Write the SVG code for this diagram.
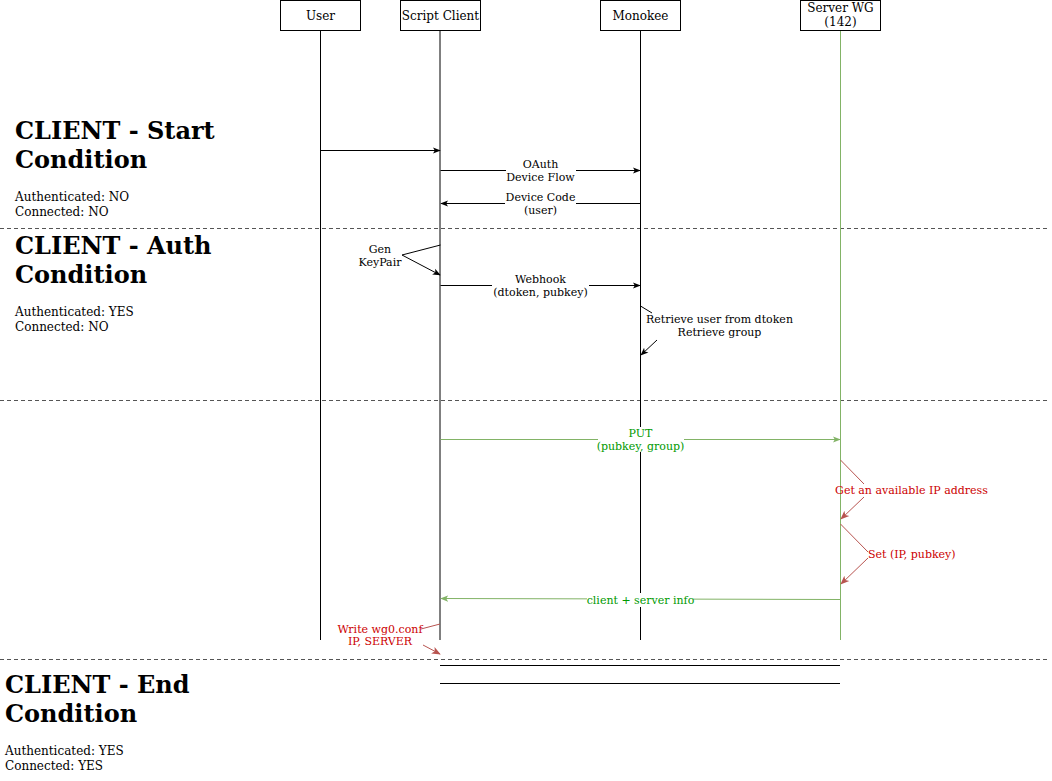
<svg xmlns="http://www.w3.org/2000/svg" width="1052" height="781" viewBox="0 0 1052 781">
<style>
text{font-family:"DejaVu Serif","Liberation Serif",serif;fill:#000}
.hdr{font-size:12px;text-anchor:middle}
.lbl{font-size:11px;text-anchor:middle}
.title{font-size:24px;font-weight:bold}
.body{font-size:12px}
.green{fill:#009900}
.red{fill:#CC0000}
.box{fill:#fff;stroke:#000;stroke-width:1}
.life{stroke:#000;stroke-width:1;fill:none}
.msg{stroke:#000;stroke-width:1;fill:none}
.gmsg{stroke:#82b366;stroke-width:1;fill:none}
.rmsg{stroke:#b85450;stroke-width:1;fill:none}
.sep{stroke:#555;stroke-width:1;stroke-dasharray:4 3;fill:none}
.bg{fill:#fff}
</style>
<defs>
<marker id="ab" viewBox="0 0 10 10" refX="9" refY="5" markerWidth="8" markerHeight="8" markerUnits="userSpaceOnUse" orient="auto"><path d="M0,1 L10,5 L0,9 L2.5,5 Z" fill="#000"/></marker>
<marker id="ag" viewBox="0 0 10 10" refX="9" refY="5" markerWidth="8" markerHeight="8" markerUnits="userSpaceOnUse" orient="auto"><path d="M0,1 L10,5 L0,9 L2.5,5 Z" fill="#82b366"/></marker>
<marker id="ar" viewBox="0 0 10 10" refX="9" refY="5" markerWidth="9" markerHeight="9" markerUnits="userSpaceOnUse" orient="auto"><path d="M0,1 L10,5 L0,9 L2.5,5 Z" fill="#b85450"/></marker>
</defs>
<rect width="1052" height="781" fill="#fff"/>

<g id="separators">
<line class="sep" x1="0" y1="228.5" x2="1048" y2="228.5"/>
<line class="sep" x1="0" y1="400.5" x2="1048" y2="400.5"/>
<line class="sep" x1="0" y1="659.5" x2="1048" y2="659.5"/>
</g>

<g id="node-user">
<line class="life" x1="320.5" y1="30" x2="320.5" y2="640"/>
<rect class="box" x="280.5" y="0.5" width="80" height="30"/>
<text class="hdr" x="320.5" y="20">User</text>
</g>
<g id="node-client">
<line class="life" x1="440" y1="30" x2="440" y2="640"/>
<rect class="box" x="400.5" y="0.5" width="80" height="30"/>
<text class="hdr" x="440.5" y="20">Script Client</text>
</g>
<g id="node-monokee">
<line class="life" x1="640.5" y1="30" x2="640.5" y2="640"/>
<rect class="box" x="600.5" y="0.5" width="80" height="30"/>
<text class="hdr" x="640.5" y="20">Monokee</text>
</g>
<g id="node-server">
<line x1="840.5" y1="30" x2="840.5" y2="640" stroke="#82b366" stroke-width="1"/>
<rect class="box" x="800.5" y="0.5" width="80" height="30"/>
<text class="hdr" x="840.5" y="12">Server WG</text>
<text class="hdr" x="840.5" y="26">(142)</text>
</g>

<g id="connectors">
<line class="msg" x1="320.5" y1="150.5" x2="440" y2="150.5" marker-end="url(#ab)"/>

<line class="msg" x1="440.5" y1="170.5" x2="640" y2="170.5" marker-end="url(#ab)"/>
<rect class="bg" x="506" y="158" width="70" height="24"/>
<text class="lbl" x="540.5" y="168">OAuth</text>
<text class="lbl" x="540.5" y="181">Device Flow</text>

<line class="msg" x1="640.5" y1="203.5" x2="441" y2="203.5" marker-end="url(#ab)"/>
<rect class="bg" x="505" y="191" width="71" height="24"/>
<text class="lbl" x="540.5" y="201">Device Code</text>
<text class="lbl" x="540.5" y="214">(user)</text>

<polyline class="msg" points="440.5,245 402,255 440,275" marker-end="url(#ab)"/>
<text class="lbl" x="380" y="253">Gen</text>
<text class="lbl" x="380" y="266">KeyPair</text>

<line class="msg" x1="440.5" y1="285.5" x2="640" y2="285.5" marker-end="url(#ab)"/>
<rect class="bg" x="492" y="273" width="97" height="24"/>
<text class="lbl" x="540.5" y="283">Webhook</text>
<text class="lbl" x="540.5" y="296">(dtoken, pubkey)</text>

<line class="msg" x1="640.5" y1="306" x2="652" y2="313"/>
<text class="lbl" x="719.5" y="323">Retrieve user from dtoken</text>
<text class="lbl" x="719.5" y="336">Retrieve group</text>
<line class="msg" x1="657" y1="340" x2="641" y2="355" marker-end="url(#ab)"/>

<line class="gmsg" x1="440.5" y1="439.5" x2="840" y2="439.5" marker-end="url(#ag)"/>
<rect class="bg" x="598" y="427" width="86" height="25"/>
<text class="lbl green" x="640.5" y="437">PUT</text>
<text class="lbl green" x="640.5" y="450">(pubkey, group)</text>

<line class="rmsg" x1="840.5" y1="460" x2="864" y2="484"/>
<text class="lbl red" x="911.5" y="494">Get an available IP address</text>
<line class="rmsg" x1="864" y1="497" x2="841" y2="519" marker-end="url(#ar)"/>

<line class="rmsg" x1="840.5" y1="524" x2="868" y2="552"/>
<text class="lbl red" x="868" y="558" style="text-anchor:start">Set (IP, pubkey)</text>
<line class="rmsg" x1="868" y1="558" x2="841" y2="584" marker-end="url(#ar)"/>

<line class="gmsg" x1="840" y1="599.5" x2="441" y2="598.5" marker-end="url(#ag)"/>
<rect class="bg" x="587" y="593" width="106" height="14"/>
<text class="lbl green" x="640.5" y="604">client + server info</text>

<line class="rmsg" x1="440" y1="624" x2="421" y2="629"/>
<text class="lbl red" x="380" y="633">Write wg0.conf</text>
<text class="lbl red" x="380" y="645">IP, SERVER</text>
<line class="rmsg" x1="423" y1="645" x2="440" y2="654" marker-end="url(#ar)"/>

<line class="msg" x1="440" y1="665.5" x2="840" y2="665.5"/>
<line class="msg" x1="440" y1="683.5" x2="840" y2="683.5"/>
</g>

<g id="note-start">
<text class="title" x="15" y="139">CLIENT - Start</text>
<text class="title" x="15" y="168">Condition</text>
<text class="body" x="15" y="201">Authenticated: NO</text>
<text class="body" x="15" y="216">Connected: NO</text>
</g>
<g id="note-auth">
<text class="title" x="15" y="254">CLIENT - Auth</text>
<text class="title" x="15" y="283">Condition</text>
<text class="body" x="15" y="316">Authenticated: YES</text>
<text class="body" x="15" y="331">Connected: NO</text>
</g>
<g id="note-end">
<text class="title" x="5" y="693">CLIENT - End</text>
<text class="title" x="5" y="722">Condition</text>
<text class="body" x="5" y="755">Authenticated: YES</text>
<text class="body" x="5" y="770">Connected: YES</text>
</g>
</svg>
